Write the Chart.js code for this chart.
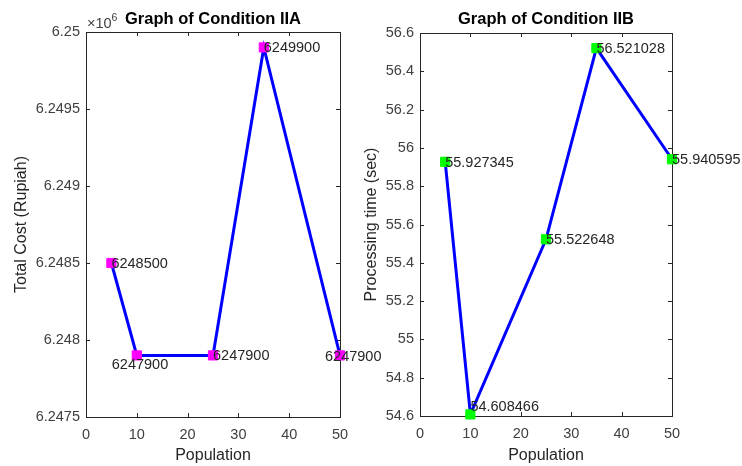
<!DOCTYPE html>
<html>
<head>
<meta charset="utf-8">
<script src="https://cdn.jsdelivr.net/npm/chart.js@4/dist/chart.umd.min.js"></script>
<style>
  html, body { margin: 0; padding: 0; background: #fff; }
  #wrap { position: relative; width: 742px; height: 466px; overflow: hidden; }
  canvas { position: absolute; top: 0; }
</style>
</head>
<body>
<div id="wrap">
  <canvas id="chartA" width="420" height="466" style="left:0"></canvas>
  <canvas id="chartB" width="392" height="466" style="left:350px"></canvas>
</div>
<script>
// data
const population = [5, 10, 25, 35, 50];
const costIIA = [6248500, 6247900, 6247900, 6249900, 6247900];
const timeIIB = [55.927345, 54.608466, 55.522648, 56.521028, 55.940595];
const xTicks = [0, 10, 20, 30, 40, 50];
const yTicksA = [6247500, 6248000, 6248500, 6249000, 6249500, 6250000];
const yTicksB = [54.6, 54.8, 55, 55.2, 55.4, 55.6, 55.8, 56, 56.2, 56.4, 56.6];

// label nudges (px) so the texts sit like in the matlab figure
const nudgeA = [[0, 1], [-25, 10], [0, 1], [0, 1], [-15, 2]];
const nudgeB = [[0, 1], [0, -7], [0, 1], [0, 1], [0, 1]];

const FONT = "'Liberation Sans', Arial, Helvetica, sans-serif";
Chart.defaults.font.family = FONT;
Chart.defaults.animation = false;

// kader + ticks naar binnen, titels, asnamen
const matlabAxes = {
    id: 'matlabAxes',
    beforeDatasetsDraw(chart, args, opts) {
        const ctx = chart.ctx;
        const a = chart.chartArea;
        const xs = chart.scales.x, ys = chart.scales.y;
        ctx.save();
        ctx.strokeStyle = '#262626';
        ctx.lineWidth = 1;
        ctx.strokeRect(Math.round(a.left) + 0.5, Math.round(a.top) + 0.5,
            Math.round(a.right - a.left), Math.round(a.bottom - a.top));
        ctx.beginPath();
        xs.ticks.forEach(t => {
            const px = Math.round(xs.getPixelForValue(t.value)) + 0.5;
            ctx.moveTo(px, a.bottom); ctx.lineTo(px, a.bottom - 4);
            ctx.moveTo(px, a.top); ctx.lineTo(px, a.top + 4);
        });
        ys.ticks.forEach(t => {
            const py = Math.round(ys.getPixelForValue(t.value)) + 0.5;
            ctx.moveTo(a.left, py); ctx.lineTo(a.left + 4, py);
            ctx.moveTo(a.right, py); ctx.lineTo(a.right - 4, py);
        });
        ctx.stroke();
        ctx.restore();
    },
    afterDraw(chart, args, opts) {
        const ctx = chart.ctx;
        const a = chart.chartArea;
        const cx = (a.left + a.right) / 2;
        ctx.save();
        // titel
        ctx.fillStyle = '#000';
        ctx.font = 'bold 16.5px ' + FONT;
        ctx.textAlign = 'center';
        ctx.textBaseline = 'alphabetic';
        ctx.fillText(opts.title, cx, 24);
        // x-as naam
        ctx.fillStyle = '#262626';
        ctx.font = '16px ' + FONT;
        ctx.textBaseline = 'middle';
        ctx.fillText(opts.xTitle, cx, 456);
        // y-as naam
        ctx.translate(22, (a.top + a.bottom) / 2);
        ctx.rotate(-Math.PI / 2);
        ctx.fillText(opts.yTitle, 0, 0);
        ctx.restore();
        if (opts.exponent) {
            ctx.save();
            ctx.fillStyle = '#404040';
            ctx.textAlign = 'left';
            ctx.font = '14.5px ' + FONT;
            ctx.fillText('\u00d710', a.left + 1, 28);
            const w = ctx.measureText('\u00d710').width;
            ctx.font = '10.5px ' + FONT;
            ctx.fillText(opts.exponent, a.left + 1 + w, 21);
            ctx.restore();
        }
    }
};

// waarde-labels naast de punten
const pointLabels = {
    id: 'pointLabels',
    afterDatasetsDraw(chart, args, opts) {
        const ctx = chart.ctx;
        const meta = chart.getDatasetMeta(0);
        const ds = chart.data.datasets[0];
        ctx.save();
        ctx.fillStyle = '#262626';
        ctx.font = '14.5px ' + FONT;
        ctx.textAlign = 'left';
        ctx.textBaseline = 'middle';
        meta.data.forEach((pt, i) => {
            const n = opts.nudge[i] || [0, 0];
            ctx.fillText(opts.format(ds.data[i].y), pt.x + n[0], pt.y + n[1]);
        });
        ctx.restore();
    }
};

function makeChart(id, cfg) {
    const ctx = document.getElementById(id).getContext('2d');
    return new Chart(ctx, {
        type: 'line',
        data: {
            datasets: [{
                data: population.map((p, i) => ({ x: p, y: cfg.values[i] })),
                borderColor: '#0000ff',
                borderWidth: 3,
                pointStyle: 'rect',
                pointRadius: 6.5,
                pointBackgroundColor: cfg.marker,
                pointBorderColor: cfg.marker,
                pointBorderWidth: 1,
                tension: 0,
                clip: false
            }]
        },
        options: {
            responsive: false,
            layout: { padding: { top: cfg.top, right: cfg.right, left: 0, bottom: 0 } },
            scales: {
                x: {
                    type: 'linear',
                    min: 0, max: 50,
                    afterBuildTicks: s => { s.ticks = xTicks.map(v => ({ value: v })); },
                    grid: { display: false, drawTicks: false },
                    border: { display: false },
                    ticks: { color: '#404040', font: { size: 14.5 }, padding: 9, maxRotation: 0 },
                    afterFit: s => { s.height = cfg.xHeight; }
                },
                y: {
                    type: 'linear',
                    min: cfg.yMin, max: cfg.yMax,
                    afterBuildTicks: s => { s.ticks = cfg.yTicks.map(v => ({ value: v })); },
                    grid: { display: false, drawTicks: false },
                    border: { display: false },
                    ticks: { color: '#404040', font: { size: 14.5 }, padding: 6, callback: cfg.tickFormat },
                    afterFit: s => { s.width = cfg.yWidth; }
                }
            },
            plugins: {
                legend: { display: false },
                tooltip: { enabled: false },
                matlabAxes: { title: cfg.title, xTitle: 'Population', yTitle: cfg.yTitle, exponent: cfg.exponent },
                pointLabels: { nudge: cfg.nudge, format: cfg.labelFormat }
            }
        },
        plugins: [matlabAxes, pointLabels]
    });
}

makeChart('chartA', {
    values: costIIA,
    marker: '#ff00ff',
    title: 'Graph of Condition IIA',
    yTitle: 'Total Cost (Rupiah)',
    exponent: '6',
    yMin: 6247500, yMax: 6250000, yTicks: yTicksA,
    tickFormat: v => String(parseFloat((v / 1e6).toFixed(4))),
    labelFormat: v => String(v),
    nudge: nudgeA,
    top: 32, right: 80, yWidth: 86, xHeight: 49
});

makeChart('chartB', {
    values: timeIIB,
    marker: '#00ff00',
    title: 'Graph of Condition IIB',
    yTitle: 'Processing time (sec)',
    exponent: null,
    yMin: 54.6, yMax: 56.6, yTicks: yTicksB,
    tickFormat: v => String(parseFloat(v.toFixed(1))),
    labelFormat: v => v.toFixed(6),
    nudge: nudgeB,
    top: 33, right: 70, yWidth: 70, xHeight: 50
});
</script>
</body>
</html>
